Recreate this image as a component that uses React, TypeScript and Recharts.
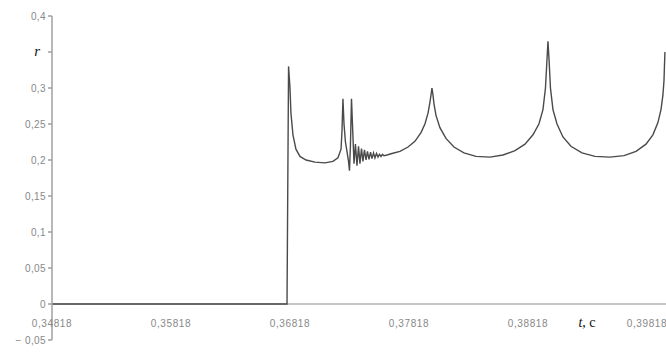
import { LineChart, Line, XAxis, YAxis, ReferenceLine } from 'recharts';

// time, s
const time = [
  0.34818, 0.36793, 0.36806, 0.36818, 0.36826, 0.36843, 0.36868, 0.36902, 0.36953, 0.37028,
  0.37112, 0.37179, 0.37221, 0.37247, 0.37255, 0.37263, 0.37272, 0.37284, 0.37297, 0.3731,
  0.37318, 0.37326, 0.37335, 0.37343, 0.37356, 0.37368, 0.37381, 0.37394, 0.37406, 0.37419,
  0.37431, 0.37444, 0.37457, 0.37469, 0.37482, 0.37495, 0.37507, 0.3752, 0.37532, 0.37545,
  0.37558, 0.3757, 0.37583, 0.37595, 0.37608, 0.37633, 0.37675, 0.37742, 0.3781, 0.37868,
  0.37919, 0.37952, 0.37978, 0.37994, 0.38003, 0.38011, 0.3802, 0.38028, 0.38045, 0.38078,
  0.38129, 0.38196, 0.3828, 0.38381, 0.38499, 0.38608, 0.38709, 0.38793, 0.3886, 0.3891,
  0.38944, 0.38965, 0.38978, 0.38986, 0.38995, 0.39007, 0.39028, 0.39062, 0.39112, 0.39179,
  0.39272, 0.39381, 0.39507, 0.39625, 0.39726, 0.3981, 0.39868, 0.3991, 0.39936, 0.39952,
  0.39961, 0.39969,
];

// r values
const ratio = [
  0, 0, 0.33, 0.3, 0.265, 0.235, 0.215, 0.205, 0.2, 0.197,
  0.196, 0.198, 0.203, 0.215, 0.24, 0.285, 0.25, 0.225, 0.212, 0.198,
  0.185, 0.22, 0.285, 0.25, 0.195, 0.222, 0.192, 0.219, 0.195, 0.216,
  0.198, 0.214, 0.2, 0.212, 0.201, 0.211, 0.202, 0.21, 0.203, 0.209,
  0.204, 0.208, 0.205, 0.208, 0.206, 0.207, 0.209, 0.212, 0.218, 0.226,
  0.238, 0.25, 0.265, 0.28, 0.29, 0.3, 0.29, 0.278, 0.262, 0.245,
  0.23, 0.218, 0.21, 0.205, 0.204, 0.207, 0.213, 0.222, 0.235, 0.25,
  0.27, 0.3, 0.34, 0.365, 0.34, 0.3, 0.27, 0.25, 0.232, 0.219,
  0.21, 0.205, 0.204, 0.206, 0.212, 0.222, 0.235, 0.252, 0.27, 0.29,
  0.31, 0.35,
];

const xTicks = [0.34818, 0.35818, 0.36818, 0.37818, 0.38818, 0.39818];
const yTicks = [-0.05, 0, 0.05, 0.1, 0.15, 0.2, 0.25, 0.3, 0.35, 0.4];

const chartData = time.map((t, i) => ({ t, r: ratio[i] }));

const fmt = (v: number) =>
  v === 0 ? '0' : (v < 0 ? '\u2212 ' : '') + String(Math.abs(v)).replace('.', ',');

const sans = 'Arial, "Liberation Sans", sans-serif';
const serif = '"Times New Roman", "Liberation Serif", serif';

function YTick({ x, y, payload }: any) {
  if (payload.value === 0.35) {
    return (
      <text x={x - 6} y={y} dy={4} textAnchor="end" fontFamily={serif}
        fontStyle="italic" fontSize={15} fill="#111">
        r
      </text>
    );
  }
  return (
    <text x={x} y={y} dy={3.5} textAnchor="end" fontFamily={sans} fontSize={10}
      letterSpacing={0.4} fill="#888">
      {fmt(payload.value)}
    </text>
  );
}

function XTick({ x, y, payload }: any) {
  return (
    <g>
      <text x={x} y={y} dy={-13} textAnchor="middle" fontFamily={sans} fontSize={10}
        letterSpacing={0.6} fill="#888">
        {fmt(payload.value)}
      </text>
      {payload.value === 0.38818 && (
        <text x={x + 59} y={y} dy={-13} textAnchor="middle" fontFamily={serif}
          fontSize={14} fill="#111">
          <tspan fontStyle="italic">t</tspan>, c
        </text>
      )}
    </g>
  );
}

export default function App() {
  return (
    <div style={{ position: 'absolute', left: 0, top: 0, width: 666, height: 352, background: '#fff' }}>
      <LineChart width={666} height={352} data={chartData}
        margin={{ top: 16, right: 0, bottom: 0, left: 0 }}>
        <XAxis
          dataKey="t"
          type="number"
          domain={[0.34818, 0.39978]}
          ticks={xTicks}
          interval={0}
          axisLine={false}
          tickLine={false}
          tickSize={0}
          tickMargin={0}
          height={12}
          tick={<XTick />}
        />
        <YAxis
          type="number"
          domain={[-0.05, 0.4]}
          ticks={yTicks}
          interval={0}
          width={52}
          tickSize={4}
          tickMargin={2}
          stroke="#a0a0a0"
          strokeWidth={1.5}
          tick={<YTick />}
        />
        <ReferenceLine y={0} stroke="#b0b0b0" strokeWidth={1.5} />
        <Line
          type="linear"
          dataKey="r"
          stroke="#4a4a4a"
          strokeWidth={1.4}
          dot={false}
          isAnimationActive={false}
        />
      </LineChart>
    </div>
  );
}
